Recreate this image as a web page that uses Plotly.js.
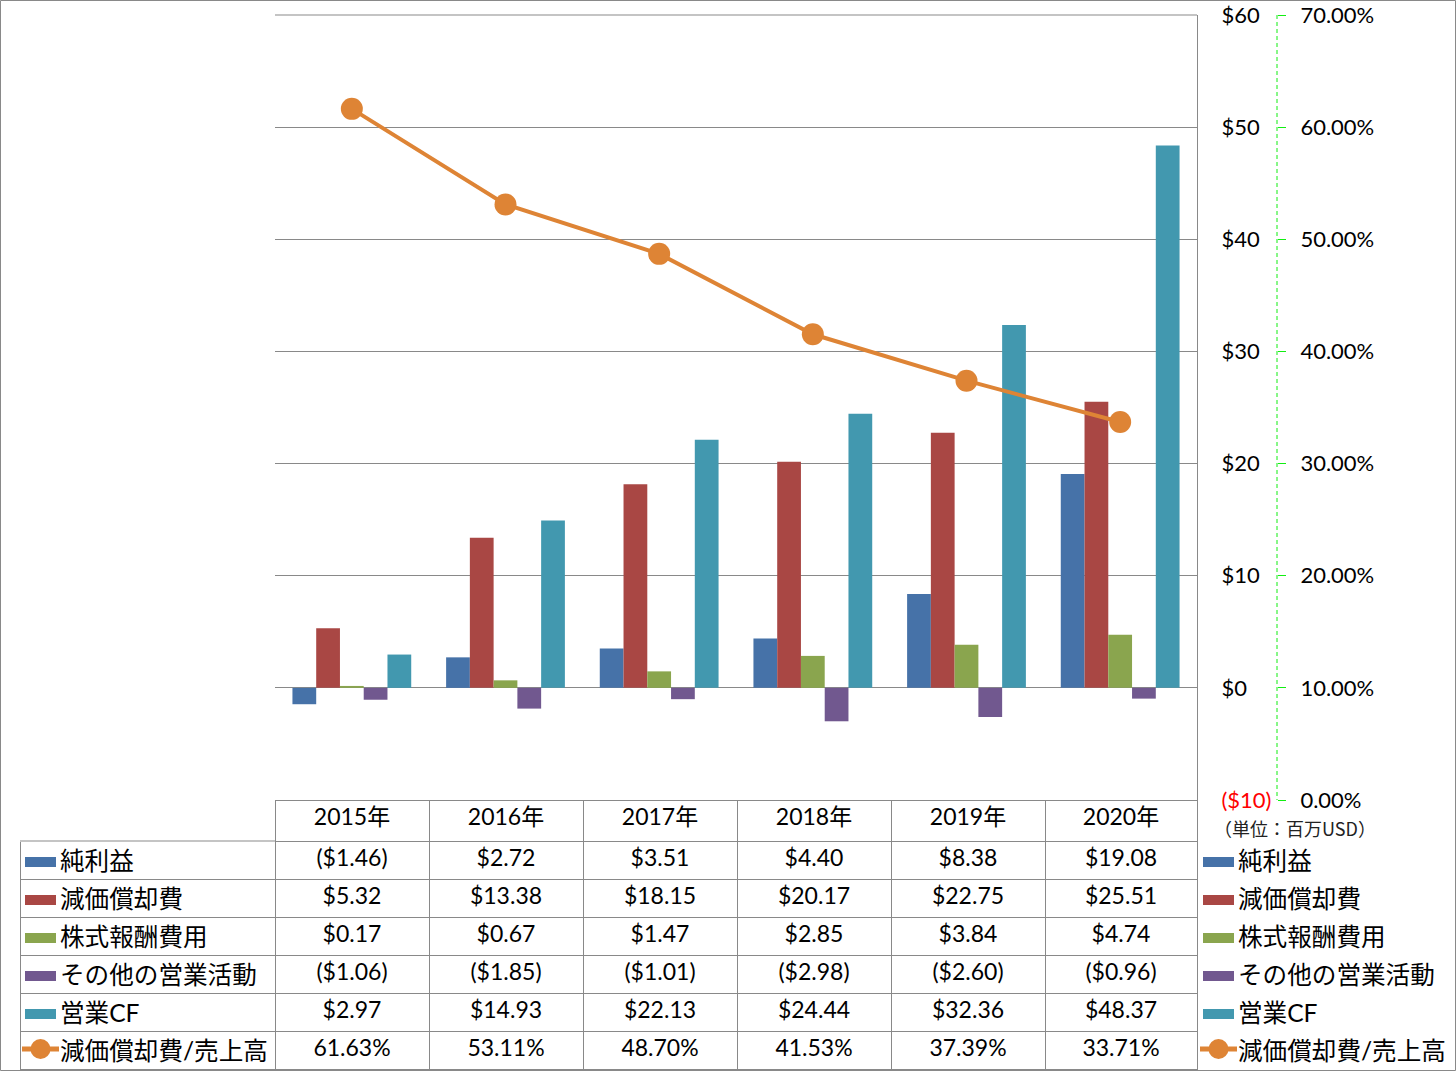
<!DOCTYPE html>
<html><head><meta charset="utf-8">
<script src="https://cdn.plot.ly/plotly-3.0.1.min.js"></script>
<style>html,body{margin:0;padding:0;background:#fff}</style>
</head><body><div id="chart" style="width:1456px;height:1071px"></div>
<script>
// ---- data ----
const years = ['2015年', '2016年', '2017年', '2018年', '2019年', '2020年'];
const netIncome = [-1.46, 2.72, 3.51, 4.40, 8.38, 19.08];
const depreciation = [5.32, 13.38, 18.15, 20.17, 22.75, 25.51];
const stockComp = [0.17, 0.67, 1.47, 2.85, 3.84, 4.74];
const otherOps = [-1.06, -1.85, -1.01, -2.98, -2.60, -0.96];
const operatingCF = [2.97, 14.93, 22.13, 24.44, 32.36, 48.37];
const deprToSales = [0.6163, 0.5311, 0.4870, 0.4153, 0.3739, 0.3371];
const seriesNames = ['純利益', '減価償却費', '株式報酬費用', 'その他の営業活動', '営業CF', '減価償却費/売上高'];
const yTickVals = [-10, 0, 10, 20, 30, 40, 50, 60];
const y2TickVals = [0, 0.1, 0.2, 0.3, 0.4, 0.5, 0.6, 0.7];
const unitLabel = '（単位：百万USD）';

// ---- styling ----
const colors = ['#4672A8', '#A94744', '#8AA54E', '#71588F', '#4298AF', '#DE8435'];
const W = 1456, H = 1071;
const px = x => x / W;
const py = y => 1 - y / H;
const FONT = 'Lato, "Noto Sans CJK JP", sans-serif';
const CJK = '"Noto Sans CJK JP", sans-serif';
const gray = '#898989';
const green = '#11EE11';

const money = v => v < 0 ? '($' + Math.abs(v).toFixed(2) + ')' : '$' + v.toFixed(2);
const pct = v => (v * 100).toFixed(2) + '%';

const barSeries = [netIncome, depreciation, stockComp, otherOps, operatingCF];
const traces = barSeries.map((vals, i) => ({
  type: 'bar', x: years, y: vals, name: seriesNames[i],
  marker: {color: colors[i], line: {width: 0}}, xaxis: 'x', yaxis: 'y',
  hoverinfo: 'skip'
}));
traces.push({
  type: 'scatter', mode: 'lines+markers', x: years, y: deprToSales, name: seriesNames[5],
  xaxis: 'x', yaxis: 'y2', line: {color: colors[5], width: 4},
  marker: {color: colors[5], size: 22}, hoverinfo: 'skip'
});

// table
const tableCols = [seriesNames.map(() => '')];
years.forEach((yr, j) => {
  tableCols.push([
    money(netIncome[j]), money(depreciation[j]), money(stockComp[j]),
    money(otherOps[j]), money(operatingCF[j]), pct(deprToSales[j])
  ]);
});
traces.push({
  type: 'table',
  domain: {x: [px(20), px(1197)], y: [0, py(800)]},
  columnwidth: [255, 154, 154, 154, 154, 154, 152],
  header: {
    values: [''].concat(years), height: 41, align: 'center',
    line: {color: ['#ffffff'].concat(years.map(() => gray)), width: 1},
    fill: {color: '#ffffff'}, font: {family: FONT, size: 23, color: '#000'}
  },
  cells: {
    values: tableCols, height: 38, align: 'center',
    line: {color: gray, width: 1}, fill: {color: '#ffffff'},
    font: {family: FONT, size: 23, color: '#000'}
  }
});

// shapes & annotations
const shapes = [
  {type: 'rect', xref: 'paper', yref: 'paper', x0: px(0.5), x1: px(1455.5), y0: py(0.5), y1: py(1070.5),
   line: {color: gray, width: 1}, layer: 'above'},
  {type: 'line', xref: 'paper', yref: 'paper', x0: px(275), x1: px(1197), y0: py(15), y1: py(15),
   line: {color: gray, width: 1}, layer: 'below'},
  {type: 'line', xref: 'paper', yref: 'paper', x0: px(1277), x1: px(1277), y0: py(15), y1: py(800),
   line: {color: green, width: 1, dash: '4px,3px'}},
  {type: 'line', xref: 'paper', yref: 'paper', x0: px(20), x1: px(275), y0: py(841), y1: py(841),
   line: {color: gray, width: 1}, layer: 'above'}
];
const annotations = [
  {xref: 'paper', yref: 'paper', x: px(1212), y: py(828), xanchor: 'left', yanchor: 'middle',
   text: unitLabel, showarrow: false, font: {family: CJK, size: 18, color: '#222'}}
];
const rowCenters = [860, 898, 936, 974, 1012, 1050];
[[25, 58], [1203, 1236]].forEach(([sx, tx]) => {
  seriesNames.forEach((nm, i) => {
    const c = rowCenters[i];
    if (i < 5) {
      shapes.push({type: 'rect', xref: 'paper', yref: 'paper', x0: px(sx), x1: px(sx + 31),
        y0: py(c - 3), y1: py(c + 7), fillcolor: colors[i], line: {width: 0}, layer: 'above'});
    } else {
      shapes.push({type: 'line', xref: 'paper', yref: 'paper', x0: px(sx - 3), x1: px(sx + 34),
        y0: py(c - 1), y1: py(c - 1), line: {color: colors[5], width: 5}, layer: 'above'});
      shapes.push({type: 'circle', xref: 'paper', yref: 'paper', x0: px(sx + 5.5), x1: px(sx + 25.5),
        y0: py(c - 11), y1: py(c + 9), fillcolor: colors[5], line: {width: 0}, layer: 'above'});
    }
    annotations.push({xref: 'paper', yref: 'paper', x: px(tx), y: py(c), xanchor: 'left', yanchor: 'middle',
      text: nm, showarrow: false, font: {family: FONT, size: 24.6, color: '#000'}});
  });
});

const layout = {
  width: W, height: H, margin: {l: 0, r: 0, t: 0, b: 0},
  paper_bgcolor: '#fff', plot_bgcolor: '#fff', showlegend: false,
  barmode: 'group', bargap: 0.227, bargroupgap: 0,
  font: {family: FONT, size: 21, color: '#000'},
  xaxis: {domain: [px(275), px(1197)], type: 'category', showticklabels: false,
    showgrid: false, zeroline: false, showline: false, ticks: '', fixedrange: true},
  yaxis: {domain: [py(800), py(15)], range: [-10, 60], side: 'right', anchor: 'x',
    tickvals: yTickVals,
    ticktext: yTickVals.map(v => v < 0 ? '<span style="color:#FF0000">($' + Math.abs(v) + ')</span>' : '$' + v),
    showgrid: true, gridcolor: gray, gridwidth: 1, zeroline: true, zerolinecolor: gray, zerolinewidth: 1,
    showline: true, linecolor: gray, linewidth: 1, ticks: '', ticklabelstandoff: 19,
    tickfont: {family: FONT, size: 22, color: '#000'}},
  yaxis2: {overlaying: 'y', side: 'right', anchor: 'free', position: px(1277),
    range: [0, 0.7], tickvals: y2TickVals, tickformat: '.2%',
    showgrid: false, zeroline: false, showline: false,
    ticks: 'outside', ticklen: 8, tickcolor: green, tickwidth: 1, ticklabelstandoff: 10,
    tickfont: {family: FONT, size: 22, color: '#000'}},
  shapes: shapes, annotations: annotations
};
Plotly.newPlot('chart', traces, layout, {staticPlot: true, displayModeBar: false});
</script></body></html>
